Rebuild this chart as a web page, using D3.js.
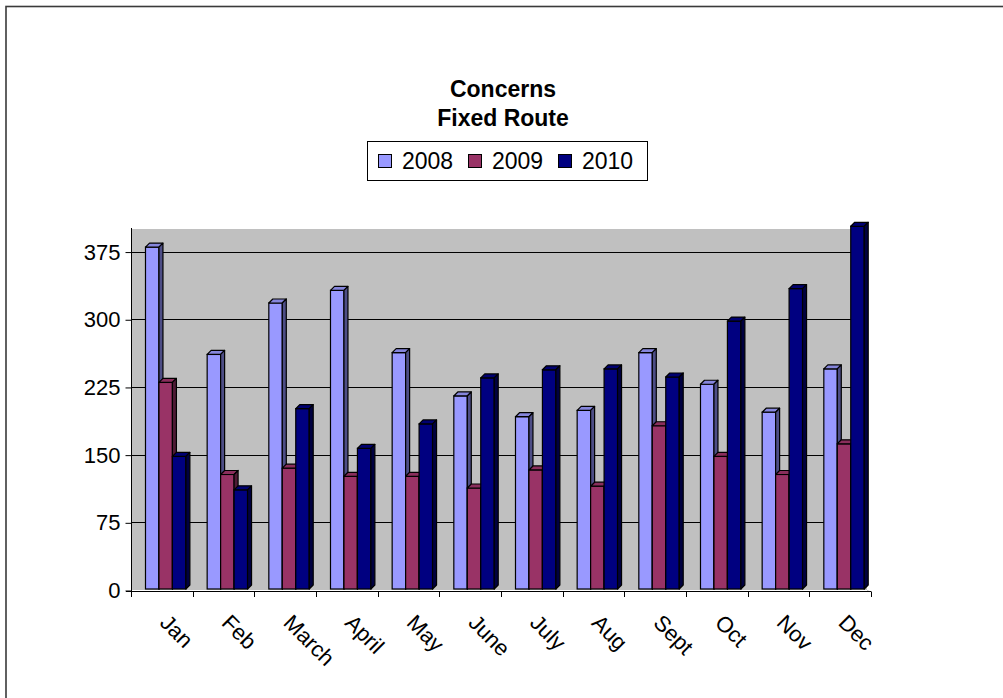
<!DOCTYPE html>
<html>
<head>
<meta charset="utf-8">
<script src="https://cdn.jsdelivr.net/npm/d3@7"></script>
<style>
  html, body { margin: 0; padding: 0; background: #fff; }
  svg { display: block; font-family: Arial, "Liberation Sans", sans-serif; }
</style>
</head>
<body>
<svg id="chart" width="1003" height="698"></svg>
<script>
// Monthly concerns, fixed route service
const months = ["Jan", "Feb", "March", "April", "May", "June", "July", "Aug", "Sept", "Oct", "Nov", "Dec"];
const series = ["2008", "2009", "2010"];
const values2008 = [380, 261, 318, 332, 263, 215, 192, 199, 263, 228, 197, 245];
const values2009 = [230, 128, 135, 126, 126, 113, 133, 115, 182, 148, 128, 162];
const values2010 = [148, 111, 201, 157, 184, 235, 244, 245, 236, 298, 334, 403];
const yTicks = [0, 75, 150, 225, 300, 375];
const titleLines = ["Concerns", "Fixed Route"];

const seriesValues = [values2008, values2009, values2010];
const frontColor = ["#9999FF", "#993366", "#000080"];
const topColor = ["#8686DC", "#8A2E5C", "#000070"];
const sideColor = ["#4E4E86", "#4E1A35", "#000040"];

const svg = d3.select("#chart");

// outer chart border
svg.append("rect")
  .attr("x", 6).attr("y", 6.5).attr("width", 1100).attr("height", 800)
  .attr("fill", "none").attr("stroke", "#3a3a3a").attr("stroke-width", 1.6);

// plot geometry
const left = 131, right = 871, wallRight = 867;
const y = d3.scaleLinear().domain([0, 400]).range([590, 229]);
const x0 = d3.scaleBand().domain(months).range([left, right]).padding(0);
const step = x0.bandwidth();
const x1 = d3.scaleBand().domain(series).range([step * 0.235, step * 0.89]).padding(0);
const depth = 4;

// back wall
svg.append("rect")
  .attr("x", left).attr("y", y(400))
  .attr("width", wallRight - left).attr("height", y(0) - y(400))
  .attr("fill", "#C0C0C0");
svg.append("path")
  .attr("d", `M${wallRight},${y(0)} L${right},${y(0) + 1.5} L${wallRight},${y(0) + 1.5} Z`)
  .attr("fill", "#C0C0C0");

// gridlines
svg.append("g").selectAll("line")
  .data(yTicks.filter(d => d > 0))
  .join("line")
  .attr("x1", left).attr("x2", wallRight)
  .attr("y1", d => Math.round(y(d)) + 0.5).attr("y2", d => Math.round(y(d)) + 0.5)
  .attr("stroke", "#000").attr("stroke-width", 1);

// y axis
const yAxis = d3.axisLeft(y).tickValues(yTicks).tickSize(6).tickSizeOuter(0).tickPadding(5);
const gy = svg.append("g").attr("transform", `translate(${left + 0.5},0.5)`).call(yAxis);
gy.select(".domain").remove();
gy.selectAll(".tick line").attr("stroke", "#000");
gy.selectAll(".tick text").attr("font-size", 22).attr("fill", "#000")
  .attr("font-family", "Arial, 'Liberation Sans', sans-serif");
svg.append("line")
  .attr("x1", left + 0.5).attr("x2", left + 0.5)
  .attr("y1", y(400) - 1).attr("y2", 597)
  .attr("stroke", "#000");

// bars, drawn as front face + top face + side face
const groups = svg.append("g").selectAll("g")
  .data(months)
  .join("g")
  .attr("transform", d => `translate(${x0(d)},0)`);

groups.each(function (m, mi) {
  const g = d3.select(this);
  series.forEach((s, si) => {
    const v = seriesValues[si][mi];
    const bx = x1(s), bw = x1.bandwidth();
    const top = y(v), bottom = y(0) - 1;
    g.append("rect")
      .attr("x", bx).attr("y", top).attr("width", bw).attr("height", bottom - top)
      .attr("fill", frontColor[si]).attr("stroke", "#000").attr("stroke-width", 1.2);
    g.append("path")
      .attr("d", `M${bx},${top} L${bx + depth},${top - depth} L${bx + bw + depth},${top - depth} L${bx + bw},${top} Z`)
      .attr("fill", topColor[si]).attr("stroke", "#000").attr("stroke-width", 1.2)
      .attr("stroke-linejoin", "round");
    g.append("path")
      .attr("d", `M${bx + bw},${top} L${bx + bw + depth},${top - depth} L${bx + bw + depth},${bottom - depth} L${bx + bw},${bottom} Z`)
      .attr("fill", sideColor[si]).attr("stroke", "#000").attr("stroke-width", 1.2)
      .attr("stroke-linejoin", "round");
  });
});

// x axis line and boundary ticks
svg.append("line")
  .attr("x1", left - 5).attr("x2", right)
  .attr("y1", y(0) + 1.5).attr("y2", y(0) + 1.5)
  .attr("stroke", "#000");
svg.append("g").selectAll("line")
  .data(months.map(m => x0(m)).concat([right]))
  .join("line")
  .attr("x1", d => Math.round(d) + 0.5).attr("x2", d => Math.round(d) + 0.5)
  .attr("y1", y(0) + 1.5).attr("y2", y(0) + 7)
  .attr("stroke", "#000");

// rotated month labels
svg.append("g").selectAll("text")
  .data(months)
  .join("text")
  .attr("transform", d => `translate(${x0(d) + step / 2 - 3},624) rotate(45)`)
  .attr("font-size", 22)
  .attr("fill", "#000")
  .text(d => d);

// title
svg.append("g").selectAll("text")
  .data(titleLines)
  .join("text")
  .attr("x", 503)
  .attr("y", (d, i) => 97 + i * 29)
  .attr("text-anchor", "middle")
  .attr("font-size", 23)
  .attr("font-weight", "bold")
  .attr("fill", "#000")
  .text(d => d);

// legend
const legend = svg.append("g");
legend.append("rect")
  .attr("x", 367.5).attr("y", 141.5).attr("width", 280).attr("height", 39)
  .attr("fill", "#fff").attr("stroke", "#000");
const legendX = [378, 468, 558];
const items = legend.selectAll("g.item")
  .data(series)
  .join("g")
  .attr("class", "item")
  .attr("transform", (d, i) => `translate(${legendX[i]},0)`);
items.append("rect")
  .attr("x", 0.5).attr("y", 154.5).attr("width", 13).attr("height", 13)
  .attr("fill", (d, i) => frontColor[i]).attr("stroke", "#000");
items.append("text")
  .attr("x", 24).attr("y", 169)
  .attr("font-size", 23)
  .attr("fill", "#000")
  .text(d => d);
</script>
</body>
</html>
